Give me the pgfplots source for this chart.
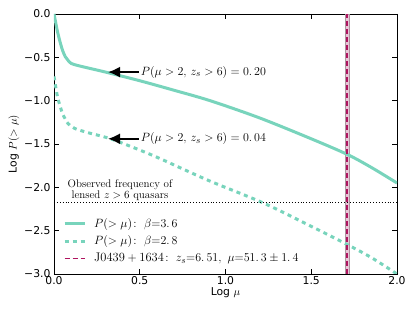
\documentclass[border=0pt]{standalone}
\usepackage{fontspec}
\usepackage{pgfplots}
\pgfplotsset{compat=1.18}
\usetikzlibrary{arrows.meta}
\newfontfamily\dejavu{DejaVu Sans}
\definecolor{teal1}{RGB}{120,212,188}
\definecolor{band}{RGB}{232,196,214}
\definecolor{bandedge}{RGB}{170,150,160}
\definecolor{crim}{RGB}{175,20,95}
\begin{document}
\begin{tikzpicture}[x=1pt,y=1pt]
\useasboundingbox (-54,-38) rectangle (361,274);
\begin{axis}[
  at={(0,0)}, anchor=south west,
  scale only axis, width=343pt, height=260pt,
  xmin=0, xmax=2, ymin=-3, ymax=0,
  xtick={0,0.5,1,1.5,2},
  xticklabels={0.0,0.5,1.0,1.5,2.0},
  ytick={-3,-2.5,-2,-1.5,-1,-0.5,0},
  yticklabels={−3.0,−2.5,−2.0,−1.5,−1.0,−0.5,0.0},
  tick label style={font=\dejavu\fontsize{10.8}{12}\selectfont},
  xticklabel style={yshift=1pt},
  tick align=inside, tick pos=both,
  major tick length=5pt,
  axis line style={line width=0.8pt, black},
  every tick/.style={black, line width=0.6pt},
  xlabel={{\dejavu Log} $\mu$},
  ylabel={{\dejavu Log} $P(>\mu)$},
  label style={font=\fontsize{10.8}{12}\selectfont},
  xlabel style={yshift=4pt},
  ylabel style={yshift=-2pt},
  legend style={draw=none, fill=none, at={(axis cs:0.035,-2.31)}, anchor=north west,
    font=\fontsize{12.5}{14}\selectfont, row sep=3pt,
    /tikz/every odd column/.append style={column sep=6pt}},
  legend image code/.code={\draw[#1] (0pt,0pt) -- (20pt,0pt);},
  legend cell align=left,
  clip=true,
]
\fill[band, draw=bandedge, line width=0.5pt] (axis cs:1.698,-3) rectangle (axis cs:1.722,0);
\addplot[teal1, line width=3pt, smooth] coordinates {
(0,0) (0.01,-0.1) (0.02,-0.2) (0.035,-0.32) (0.05,-0.42) (0.065,-0.49) (0.08,-0.53) (0.1,-0.57) (0.15,-0.60) (0.3,-0.67) (0.5,-0.77) (0.7,-0.88) (0.91,-1.0) (1.2,-1.2) (1.5,-1.44) (1.71,-1.62) (1.85,-1.77) (2.0,-1.95)};
\addlegendentry{$P(>\mu)\!:\ \beta{=}3.\,6$}
\addplot[teal1, line width=3pt, dash pattern=on 4pt off 4pt, smooth] coordinates {
(0,-0.72) (0.01,-0.84) (0.02,-0.95) (0.035,-1.06) (0.05,-1.15) (0.065,-1.21) (0.08,-1.26) (0.12,-1.32) (0.2,-1.37) (0.33,-1.44) (0.5,-1.57) (0.62,-1.67) (0.9,-1.92) (1.22,-2.18) (1.5,-2.45) (1.7,-2.65) (1.85,-2.81) (2.0,-3.0)};
\addlegendentry{$P(>\mu)\!:\ \beta{=}2.\,8$}
\addplot[crim, line width=1.6pt, dash pattern=on 5pt off 3pt] coordinates {(1.710,-3) (1.710,0)};
\addlegendentry{$\mathrm{J0439+1634}\!:\ z_s{=}6.\,51,\ \mu{=}51.\,3\pm1.\,4$}
\addplot[black, dotted, line width=0.9pt, forget plot] coordinates {(0,-2.18) (2,-2.18)};
\draw[line width=2pt, black, -{Latex[length=12pt,width=11pt]}] (axis cs:0.495,-0.67) -- (axis cs:0.315,-0.67);
\draw[line width=2pt, black, -{Latex[length=12pt,width=11pt]}] (axis cs:0.495,-1.44) -- (axis cs:0.315,-1.44);
\node[anchor=west, inner sep=1pt, font=\fontsize{13}{15}\selectfont] at (axis cs:0.50,-0.67) {$P(\mu>2,\,z_s>6)=0.\,20$};
\node[anchor=west, inner sep=1pt, font=\fontsize{13}{15}\selectfont] at (axis cs:0.50,-1.44) {$P(\mu>2,\,z_s>6)=0.\,04$};
\node[align=center, font=\fontsize{11}{11}\selectfont] at (axis cs:0.385,-2.03) {Observed frequency of\\lensed $z>6$ quasars};
\end{axis}
\end{tikzpicture}
\end{document}
